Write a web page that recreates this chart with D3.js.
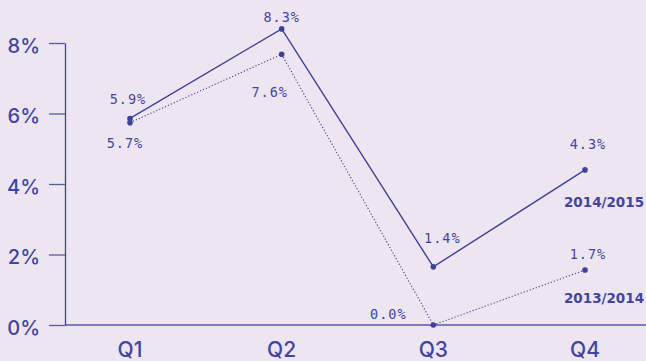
<!DOCTYPE html>
<html><head><meta charset="utf-8">
<script src="https://cdn.jsdelivr.net/npm/d3@7"></script>
<style>
html,body{margin:0;padding:0;background:#ede5f0;}
svg{display:block;}
</style></head>
<body><svg id="c" width="646" height="361"></svg>
<script>
const quarters = ["Q1","Q2","Q3","Q4"];
const yTicks = [0,2,4,6,8];
const series2015 = [5.86, 8.40, 1.65, 4.40];
const labels2015 = ["5.9%","8.3%","1.4%","4.3%"];
const series2014 = [5.74, 7.68, 0.0, 1.56];
const labels2014 = ["5.7%","7.6%","0.0%","1.7%"];
const seriesNames = ["2014/2015","2013/2014"];

const color = "#3f4196";
const textColor = "#4245a0";
const svg = d3.select("#c");
const x = d3.scalePoint().domain(quarters).range([130, 585]);
const y = d3.scaleLinear().domain([0, 8]).range([325, 43]);

// y axis
const yAxis = svg.append("g").attr("transform","translate(65,0)")
  .call(d3.axisLeft(y).tickValues(yTicks).tickFormat(d=>d+"%").tickSize(16).tickPadding(9).tickSizeOuter(0));
yAxis.select(".domain").attr("stroke", color).attr("stroke-width",1.3);
yAxis.selectAll(".tick line").attr("stroke", color).attr("stroke-width",1.3).attr("opacity",0.85);
yAxis.selectAll(".tick text").attr("fill", textColor).attr("font-family","Inter, 'Open Sans', sans-serif")
  .attr("font-size",20).attr("font-weight",500).attr("dy","0.45em");

// x axis
svg.append("line").attr("x1",65).attr("x2",646).attr("y1",y(0)).attr("y2",y(0))
  .attr("stroke",color).attr("stroke-width",1.3).attr("opacity",0.85);
svg.selectAll(".qlab").data(quarters).join("text")
  .attr("x", d=>x(d)).attr("y", 349).attr("dy","0.36em").attr("text-anchor","middle")
  .attr("fill",textColor).attr("font-family","Inter, 'Open Sans', sans-serif").attr("font-size",21)
  .attr("font-weight",500)
  .text(d=>d);

const line = d3.line().x((d,i)=>x(quarters[i])).y(d=>y(d));
svg.append("path").datum(series2014).attr("d",line).attr("fill","none")
  .attr("stroke",color).attr("stroke-width",1.1).attr("stroke-dasharray","1.2,2");
svg.append("path").datum(series2015).attr("d",line).attr("fill","none")
  .attr("stroke",color).attr("stroke-width",1.4);

[series2015, series2014].forEach(s=>{
  svg.append("g").selectAll("circle").data(s).join("circle")
    .attr("cx",(d,i)=>x(quarters[i])).attr("cy",d=>y(d)).attr("r",2.8).attr("fill",color);
});

// value labels: offsets relative to point
const off2015 = [[-2,-19],[0,-12],[9,-29],[3,-26]];
const off2014 = [[-5,20],[-12,38],[-45,-11],[3,-16]];
function valueLabels(s, labs, offs){
  svg.append("g").selectAll("text").data(s).join("text")
    .attr("x",(d,i)=>x(quarters[i])+offs[i][0]).attr("y",(d,i)=>y(d)+offs[i][1])
    .attr("dy","0.36em").attr("text-anchor","middle")
    .attr("fill",textColor).attr("font-family","'DejaVu Sans Mono', monospace").attr("font-size",13.5)
    .attr("letter-spacing","1px")
    .text((d,i)=>labs[i]);
}
valueLabels(series2015, labels2015, off2015);
valueLabels(series2014, labels2014, off2014);

// series names
const last = quarters.length-1;
svg.append("text").attr("x",604).attr("y",y(series2015[last])+32).attr("dy","0.36em")
  .attr("text-anchor","middle").attr("fill",textColor).attr("font-family","'DejaVu Sans', sans-serif")
  .attr("font-weight","bold").attr("font-size",13.5).text(seriesNames[0]);
svg.append("text").attr("x",604).attr("y",y(series2014[last])+28).attr("dy","0.36em")
  .attr("text-anchor","middle").attr("fill",textColor).attr("font-family","'DejaVu Sans', sans-serif")
  .attr("font-weight","bold").attr("font-size",13.5).text(seriesNames[1]);
</script></body></html>
